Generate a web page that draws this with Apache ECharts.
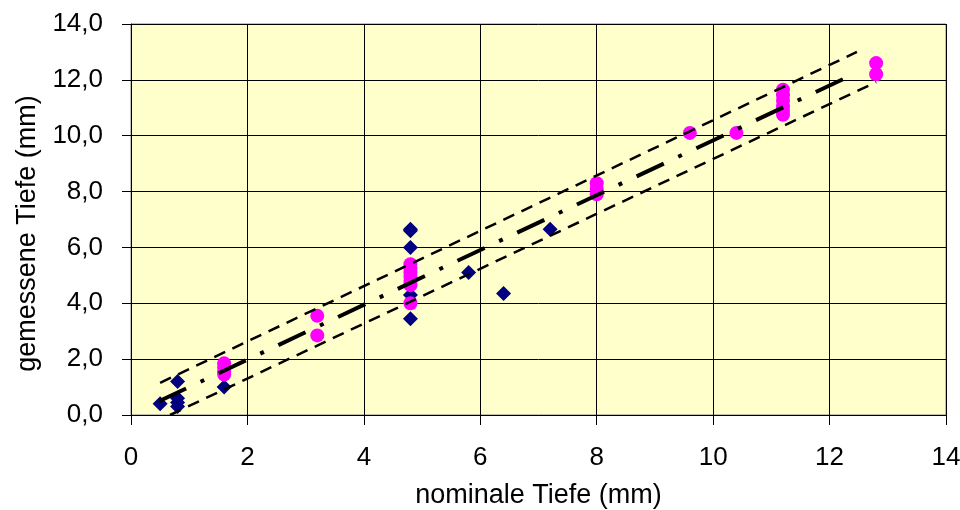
<!DOCTYPE html>
<html>
<head>
<meta charset="utf-8">
<script src="https://cdn.jsdelivr.net/npm/echarts@6/dist/echarts.min.js"></script>
<style>
  html, body { margin: 0; padding: 0; background: #fff; }
  #chart { width: 960px; height: 510px; }
</style>
</head>
<body>
<div id="chart"></div>
<script>
// blue diamonds [nominal, measured]
var blauX = [0.5, 0.8, 0.8, 0.8, 0.8, 1.6, 4.8, 4.8, 4.8, 4.8, 4.8, 5.8, 6.4, 7.2];
var blauY = [0.4, 1.2, 0.6, 0.45, 0.3, 1.0, 6.65, 6.6, 6.0, 4.3, 3.45, 5.1, 4.35, 6.65];

// magenta circles
var pinkX = [1.6, 1.6, 1.6, 1.6, 3.2, 3.2, 4.8, 4.8, 4.8, 4.8, 4.8, 4.8, 4.8,
             8.0, 8.0, 8.0, 9.6, 10.4, 11.2, 11.2, 11.2, 11.2, 11.2, 11.2, 12.8, 12.8];
var pinkY = [1.85, 1.7, 1.55, 1.45, 3.55, 2.85, 5.4, 5.25, 5.1, 4.95, 4.8, 4.65, 4.0,
             8.3, 8.1, 7.9, 10.1, 10.1, 11.65, 11.45, 11.25, 11.05, 10.9, 10.75, 12.6, 12.2];

// fit line and bounds (end points)
var fitX = [0.48, 12.42];
var fitY = [0.49, 12.21];
var obenX = [0.5, 12.47];
var obenY = [1.15, 13.0];
var untenX = [0.67, 12.8];
var untenY = [0.0, 11.92];

function pts(xs, ys) {
	return xs.map(function (x, i) { return [x, ys[i]]; });
}

var font = 'Liberation Sans, Arial, sans-serif';

var myChart = echarts.init(document.getElementById('chart'));
var option = {
	animation: false,
	grid: {
		left: 131,
		right: 14,
		top: 24,
		bottom: 95,
		outerBoundsMode: 'none',
		show: true,
		backgroundColor: '#ffffcc',
		borderColor: '#808080',
		borderWidth: 1
	},
	xAxis: {
		type: 'value',
		min: 0,
		max: 14,
		interval: 2,
		name: 'nominale Tiefe (mm)',
		nameLocation: 'middle',
		nameGap: 67,
		nameTextStyle: { color: '#000', fontSize: 27, fontFamily: font },
		axisLine: { lineStyle: { color: '#000', width: 1 } },
		axisTick: { inside: false, length: 10, lineStyle: { color: '#000' } },
		axisLabel: { color: '#000', fontSize: 26, fontFamily: font, margin: 30 },
		splitLine: { show: true, lineStyle: { color: '#000', width: 1 } }
	},
	yAxis: {
		type: 'value',
		min: 0,
		max: 14,
		interval: 2,
		name: 'gemessene Tiefe (mm)',
		nameLocation: 'middle',
		nameGap: 90,
		nameTextStyle: { color: '#000', fontSize: 27, fontFamily: font, padding: [0, 28, 0, 0] },
		axisLine: { show: true, lineStyle: { color: '#000', width: 1 } },
		axisTick: { show: true, inside: false, length: 9, lineStyle: { color: '#000' } },
		axisLabel: {
			color: '#000', fontSize: 26, fontFamily: font, margin: 28,
			formatter: function (v) { return v.toFixed(1).replace('.', ','); }
		},
		splitLine: { show: true, lineStyle: { color: '#000', width: 1 } }
	},
	series: [{
		type: 'scatter',
		symbol: 'diamond',
		symbolSize: 15,
		itemStyle: { color: '#000080', opacity: 1 },
		data: pts(blauX, blauY),
		z: 2
	}, {
		type: 'scatter',
		symbol: 'circle',
		symbolSize: 14,
		itemStyle: { color: '#ff00ff', opacity: 1 },
		data: pts(pinkX, pinkY),
		z: 3
	}, {
		type: 'line',
		symbol: 'none',
		silent: true,
		lineStyle: { color: '#000', width: 4, type: [30, 16, 4, 16], cap: 'butt' },
		data: pts(fitX, fitY),
		z: 5
	}, {
		type: 'line',
		symbol: 'none',
		silent: true,
		lineStyle: { color: '#000', width: 2.5, type: [12, 8], cap: 'butt' },
		data: pts(obenX, obenY),
		z: 5
	}, {
		type: 'line',
		symbol: 'none',
		silent: true,
		lineStyle: { color: '#000', width: 2.5, type: [12, 8], cap: 'butt' },
		data: pts(untenX, untenY),
		z: 5
	}]
};
myChart.setOption(option);
</script>
</body>
</html>
